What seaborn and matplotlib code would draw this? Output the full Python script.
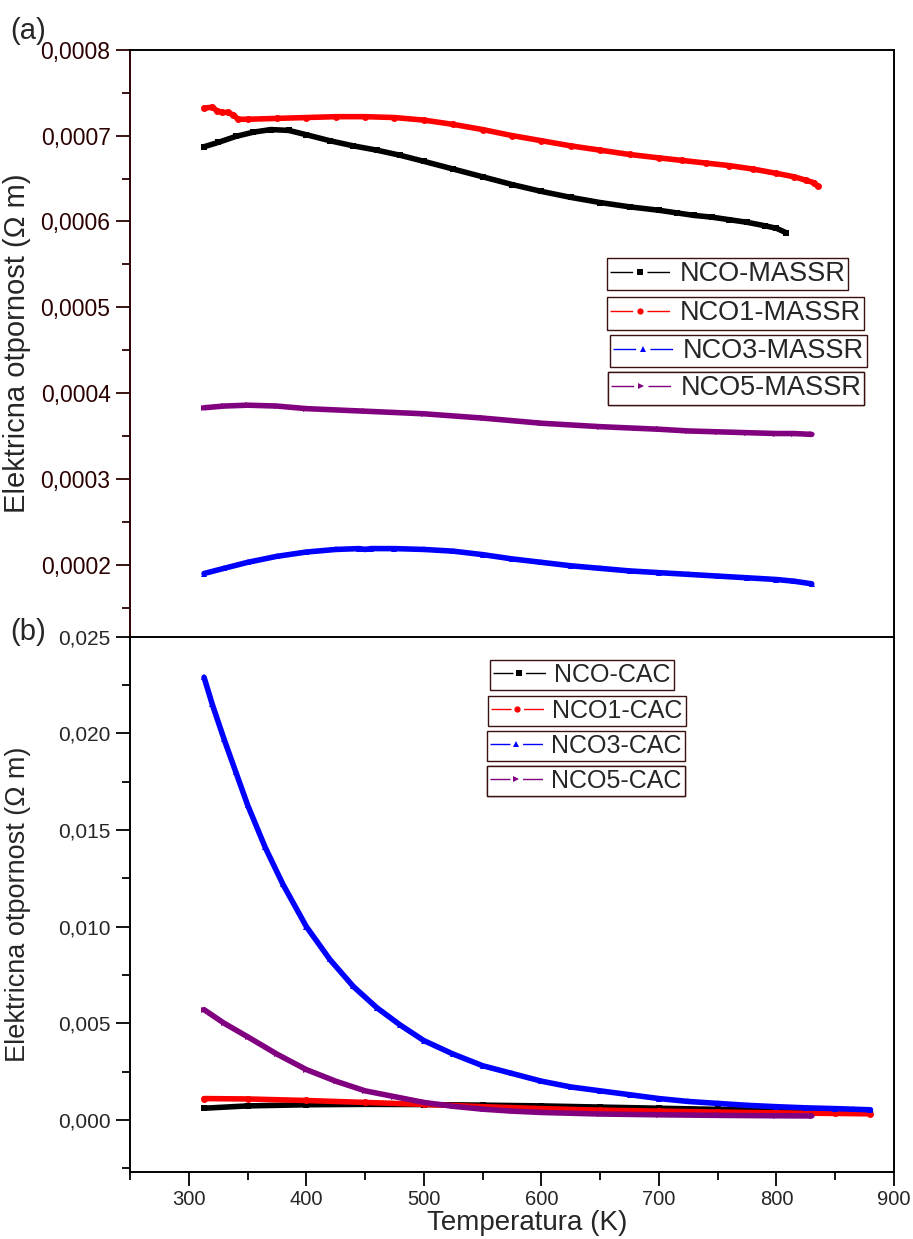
import matplotlib
matplotlib.use("Agg")
import matplotlib.pyplot as plt
import seaborn as sns
from matplotlib.lines import Line2D
from matplotlib.ticker import MultipleLocator, FuncFormatter

# ---------------- data: panel (a), MASSR samples ----------------
t_nco_massr = [313, 325, 340, 355, 370, 385, 400, 420, 440, 460, 480, 500, 525, 550,
               575, 600, 625, 650, 675, 700, 715, 730, 745, 760, 775, 790, 800, 808]
r_nco_massr = [0.000687, 0.000692, 0.000699, 0.000704, 0.000707, 0.000706, 0.000701,
               0.000694, 0.000688, 0.000683, 0.000677, 0.000670, 0.000661, 0.000652,
               0.000643, 0.000635, 0.000628, 0.000622, 0.000617, 0.000613, 0.000610,
               0.000607, 0.000605, 0.000602, 0.000599, 0.000595, 0.000592, 0.000587]

t_nco1_massr = [313, 320, 324, 328, 333, 338, 342, 350, 375, 400, 425, 450, 475, 500,
                525, 550, 575, 600, 625, 650, 675, 700, 720, 740, 760, 780, 800, 815,
                825, 832, 835]
r_nco1_massr = [0.000732, 0.000733, 0.000729, 0.000727, 0.000727, 0.000724, 0.000719,
                0.000719, 0.000720, 0.000721, 0.000722, 0.000722, 0.000721, 0.000718,
                0.000713, 0.000707, 0.000700, 0.000694, 0.000688, 0.000683, 0.000678,
                0.000674, 0.000671, 0.000668, 0.000665, 0.000661, 0.000656, 0.000652,
                0.000648, 0.000645, 0.000641]

t_nco3_massr = [313, 330, 350, 375, 400, 425, 445, 450, 455, 475, 500, 525, 550, 575,
                600, 625, 650, 675, 700, 725, 750, 775, 800, 815, 830]
r_nco3_massr = [0.000190, 0.000196, 0.000203, 0.000210, 0.000215, 0.000218, 0.000219,
                0.000218, 0.000219, 0.000219, 0.000218, 0.000216, 0.000212, 0.000207,
                0.000203, 0.000199, 0.000196, 0.000193, 0.000191, 0.000189, 0.000187,
                0.000185, 0.000183, 0.000181, 0.000178]

t_nco5_massr = [313, 330, 350, 375, 400, 450, 500, 550, 600, 650, 700, 725, 750, 775,
                800, 815, 830]
r_nco5_massr = [0.000383, 0.000385, 0.000386, 0.000385, 0.000382, 0.000379, 0.000376,
                0.000371, 0.000365, 0.000361, 0.000358, 0.000356, 0.000355, 0.000354,
                0.000353, 0.000353, 0.000352]

# ---------------- data: panel (b), CAC samples ----------------
t_nco_cac = [313, 350, 400, 450, 500, 550, 600, 650, 700, 750, 800, 850, 880]
r_nco_cac = [0.00060, 0.00072, 0.00078, 0.00080, 0.00079, 0.00076, 0.00072, 0.00066,
             0.00060, 0.00054, 0.00049, 0.00045, 0.00042]

t_nco1_cac = [313, 350, 400, 450, 500, 550, 600, 650, 700, 750, 800, 850, 880]
r_nco1_cac = [0.00110, 0.00108, 0.00100, 0.00090, 0.00080, 0.00068, 0.00058, 0.00050,
              0.00045, 0.00040, 0.00036, 0.00033, 0.00031]

t_nco3_cac = [313, 320, 330, 340, 350, 365, 380, 400, 420, 440, 460, 480, 500, 525,
              550, 575, 600, 625, 650, 675, 700, 725, 750, 775, 800, 825, 850, 865, 880]
r_nco3_cac = [0.0229, 0.0215, 0.0197, 0.0180, 0.0163, 0.0141, 0.0122, 0.0100, 0.0083,
              0.0069, 0.0058, 0.0049, 0.0041, 0.0034, 0.0028, 0.0024, 0.0020, 0.0017,
              0.0015, 0.0013, 0.0011, 0.00095, 0.00085, 0.00075, 0.00068, 0.00062,
              0.00058, 0.00055, 0.00052]

t_nco5_cac = [313, 330, 350, 375, 400, 425, 450, 475, 500, 525, 550, 575, 600, 650,
              700, 750, 800, 830]
r_nco5_cac = [0.0057, 0.0050, 0.0043, 0.0034, 0.0026, 0.0020, 0.0015, 0.0012, 0.0009,
              0.0007, 0.00055, 0.00045, 0.00038, 0.00030, 0.00026, 0.00023, 0.00021,
              0.00020]

labels_a = ["NCO-MASSR", "NCO1-MASSR", "NCO3-MASSR", "NCO5-MASSR"]
labels_b = ["NCO-CAC", "NCO1-CAC", "NCO3-CAC", "NCO5-CAC"]
colors = ["#000000", "#ff0000", "#0000ff", "#800080"]
markers = ["s", "o", "^", ">"]

x_label = "Temperatura (K)"
y_label = "Elektricna otpornost (\u03a9 m)"

# ---------------- styling ----------------
sns.set_theme(style="white")
plt.rcParams["font.family"] = ["Liberation Sans", "DejaVu Sans"]
plt.rcParams["axes.linewidth"] = 1.4

W, H = 913, 1239
fig = plt.figure(figsize=(W / 100, H / 100), dpi=100)
fig.patch.set_facecolor("white")

left, right = 130, 894
ya_top, ya_bot = 49.7, 636.7
yb_top, yb_bot = 636.7, 1172


def fig_rect(top, bottom):
    return [left / W, 1 - bottom / H, (right - left) / W, (bottom - top) / H]


ax_a = fig.add_axes(fig_rect(ya_top, ya_bot))
ax_b = fig.add_axes(fig_rect(yb_top, yb_bot))

series_a = [(t_nco_massr, r_nco_massr), (t_nco1_massr, r_nco1_massr),
            (t_nco3_massr, r_nco3_massr), (t_nco5_massr, r_nco5_massr)]
series_b = [(t_nco_cac, r_nco_cac), (t_nco1_cac, r_nco1_cac),
            (t_nco3_cac, r_nco3_cac), (t_nco5_cac, r_nco5_cac)]

for ax, series in ((ax_a, series_a), (ax_b, series_b)):
    for (t, r), c, m in zip(series, colors, markers):
        sns.lineplot(x=t, y=r, ax=ax, color=c, marker=m, markersize=5,
                     markeredgewidth=0, linewidth=4, legend=False)

for ax in (ax_a, ax_b):
    ax.set_xlim(250, 900)
    ax.set_facecolor("white")
    for s in ax.spines.values():
        s.set_visible(True)
        s.set_color("black")
        s.set_linewidth(1.4)

# panel (a) axes
dark = "#2b0000"
ax_a.set_ylim(0.0001164, 0.0008)
ax_a.yaxis.set_major_locator(MultipleLocator(0.0001))
ax_a.yaxis.set_minor_locator(MultipleLocator(0.00005))
ax_a.yaxis.set_major_formatter(FuncFormatter(lambda v, p: f"{v:.4f}".replace(".", ",")))
ax_a.spines["left"].set_color(dark)
ax_a.spines["bottom"].set_visible(False)
ax_a.set_xticks([])
ax_a.tick_params(axis="y", which="major", direction="out", length=10, width=1.3,
                 labelsize=16.5, labelcolor=dark, color=dark, left=True, pad=4)
ax_a.tick_params(axis="y", which="minor", direction="out", length=6, width=1.3,
                 color=dark, left=True)
ax_a.set_ylabel(y_label, fontsize=21)
ax_a.yaxis.set_label_coords(-0.129, 0.5)

# panel (b) axes
ax_b.set_ylim(-0.0027, 0.025)
ax_b.yaxis.set_major_locator(MultipleLocator(0.005))
ax_b.yaxis.set_minor_locator(MultipleLocator(0.0025))
ax_b.yaxis.set_major_formatter(FuncFormatter(lambda v, p: f"{abs(v) if abs(v) < 1e-12 else v:.3f}".replace(".", ",")))
ax_b.xaxis.set_major_locator(MultipleLocator(100))
ax_b.xaxis.set_minor_locator(MultipleLocator(50))
ax_b.tick_params(axis="both", which="major", direction="out", length=10, width=1.3,
                 color="black", left=True, bottom=True)
ax_b.tick_params(axis="both", which="minor", direction="out", length=6, width=1.3,
                 color="black", left=True, bottom=True)
ax_b.tick_params(axis="y", labelsize=15, pad=4)
ax_b.tick_params(axis="x", labelsize=14.5, pad=3)
ax_b.set_ylabel(y_label, fontsize=19.5)
ax_b.yaxis.set_label_coords(-0.129, 0.5)
ax_b.set_xlabel(x_label, fontsize=20)
ax_b.xaxis.set_label_coords(0.52, -0.071)
ax_b.xaxis.label.set_va("top")

# panel letters
fig.text(10 / W, 1 - 31 / H, "(a)", fontsize=21, va="center", ha="left")
fig.text(10 / W, 1 - 632 / H, "(b)", fontsize=21, va="center", ha="left")


# one framed legend entry per sample
def boxed_entry(ax, label, color, marker, x_px, y_px, fsize, hlen):
    seg = hlen * fsize
    handle = Line2D([], [], color=color, marker=marker, markersize=4.5,
                    markeredgewidth=0, linewidth=1.0,
                    linestyle=(0, (seg * 0.38, seg * 0.24, seg * 0.38, 300)))
    leg = ax.legend(handles=[handle], labels=[label], loc="upper left",
                    bbox_to_anchor=(x_px / W, 1 - y_px / H),
                    bbox_transform=fig.transFigure, fontsize=fsize,
                    frameon=True, fancybox=False, framealpha=1,
                    edgecolor="#3a1010", handlelength=hlen, handletextpad=0.35,
                    borderpad=0.12, borderaxespad=0, numpoints=1)
    leg.get_frame().set_linewidth(1.0)
    ax.add_artist(leg)


pos_a = [(607, 258), (607, 297), (610, 335), (608, 372)]
for lab, c, m, (x, y) in zip(labels_a, colors, markers, pos_a):
    boxed_entry(ax_a, lab, c, m, x, y, 19.5, 2.2)

pos_b = [(490, 660), (488, 696), (487, 731), (487, 766)]
for lab, c, m, (x, y) in zip(labels_b, colors, markers, pos_b):
    boxed_entry(ax_b, lab, c, m, x, y, 18, 2.1)

fig.savefig("out.png", dpi=100, facecolor="white")
